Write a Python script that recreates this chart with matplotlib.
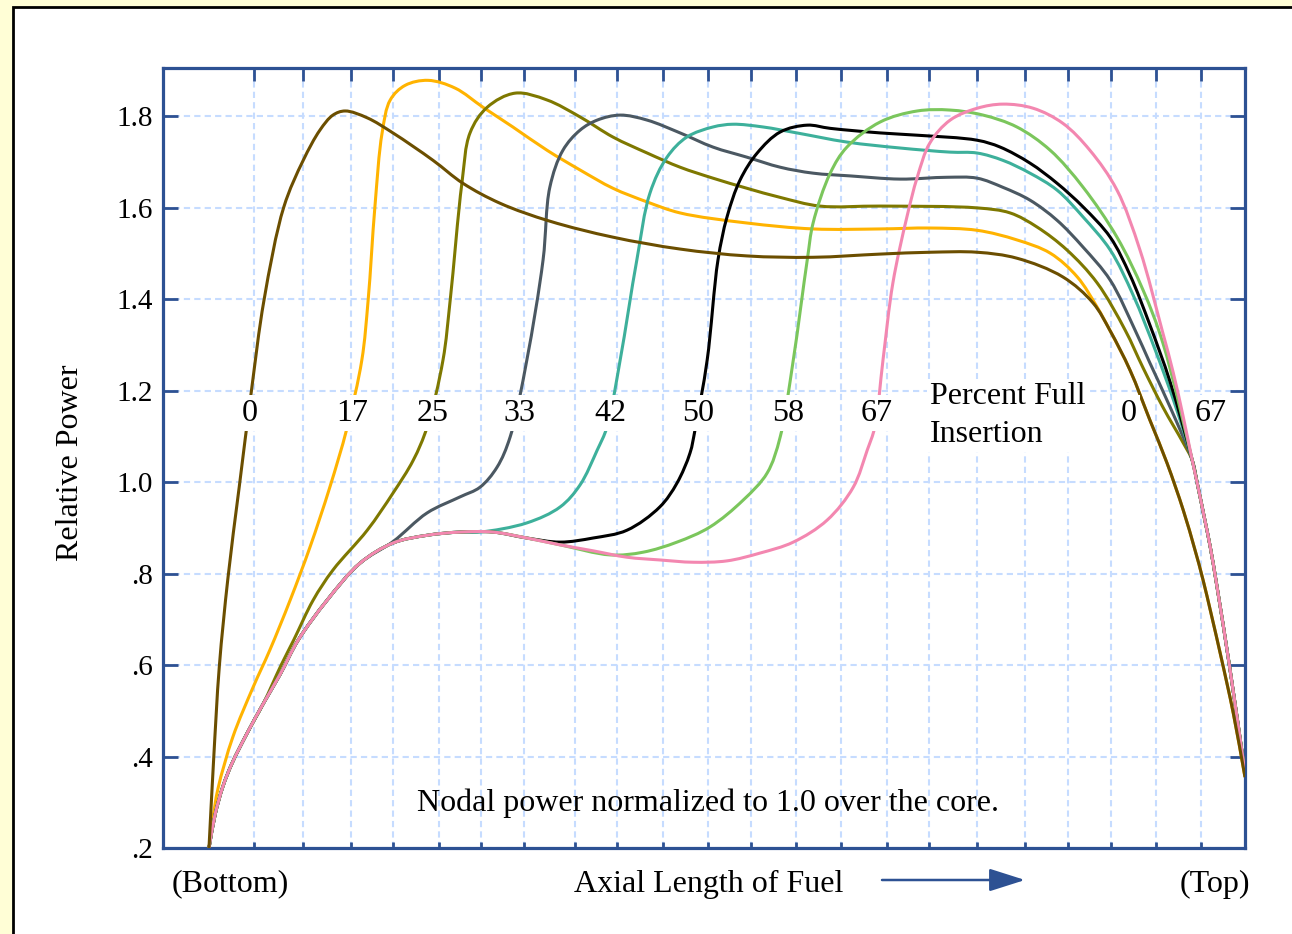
import matplotlib
matplotlib.use("Agg")
import matplotlib.pyplot as plt
import matplotlib.patches as mpatches
from matplotlib.path import Path
import numpy as np

plt.rcParams['font.family'] = ['Liberation Serif', 'DejaVu Serif']

# ---------------- data (x in axial grid units 0..24, y = relative power) ----------------
# shared lower part of the curves (rod-free bottom region)
base_x = [1.02, 1.16, 1.33, 1.53, 1.86, 2.22, 2.60, 3.00, 3.64, 4.37, 5.10, 5.86, 6.59, 7.32, 8.07, 8.81, 9.54]
base_y = [0.20, 0.275, 0.335, 0.385, 0.450, 0.515, 0.580, 0.655, 0.742, 0.823, 0.867, 0.884, 0.891, 0.891,
          0.878, 0.863, 0.850]

# shared top end after the curves converge
tail_x = [22.83, 22.94, 23.11, 23.23, 23.38, 23.67, 23.96, 24.0]
tail_y = [1.048, 0.998, 0.917, 0.858, 0.771, 0.589, 0.392, 0.364]

# 0 % insertion
c0_x = [1.02, 1.12, 1.25, 1.44, 1.69, 1.96, 2.24, 2.68, 3.11, 3.48, 3.77, 4.04, 4.53,
        5.10, 5.99, 6.65, 7.48, 8.58, 9.98, 11.47, 12.95, 14.42, 15.91, 17.01, 18.06, 18.94, 19.96,
        20.63, 21.01, 21.45, 21.89, 22.27, 22.63, 22.89, 23.07, 23.45, 23.74, 24.0]
c0_y = [0.20, 0.388, 0.598, 0.790, 0.989, 1.199, 1.398, 1.602, 1.704, 1.770, 1.803, 1.812, 1.797,
        1.764, 1.704, 1.654, 1.610, 1.571, 1.536, 1.510, 1.495, 1.492, 1.499, 1.503, 1.503, 1.490, 1.449,
        1.392, 1.331, 1.245, 1.136, 1.042, 0.939, 0.852, 0.786, 0.626, 0.495, 0.355]

# 17 %
c17_x = [1.02, 1.10, 1.22, 1.55, 2.00, 2.37, 2.82, 3.26, 3.70, 4.08, 4.41, 4.55, 4.70, 4.86, 5.04,
         5.37, 5.88, 6.48, 7.10, 7.76, 8.52, 9.25, 9.98, 10.74, 11.47, 12.95, 14.42, 15.91, 17.01,
         18.06, 18.94, 19.68, 20.28, 20.72]
c17_y = [0.20, 0.26, 0.33, 0.443, 0.552, 0.633, 0.742, 0.858, 0.989, 1.118, 1.267, 1.398, 1.602, 1.764, 1.836,
         1.868, 1.879, 1.862, 1.820, 1.777, 1.726, 1.683, 1.643, 1.613, 1.589, 1.567, 1.554, 1.554, 1.556,
         1.551, 1.530, 1.501, 1.449, 1.383]

# 25 %
c25_x = [2.62, 2.90, 3.33, 3.77, 4.53, 5.10, 5.55, 5.86, 6.21, 6.37, 6.63, 6.81, 7.19, 7.81, 8.52,
         9.25, 9.98, 10.74, 11.47, 12.20, 12.95, 13.69, 14.57, 15.91, 18.06, 18.79, 19.39, 20.05,
         20.72, 21.34, 21.74, 22.18, 22.63]
c25_y = [0.600, 0.655, 0.742, 0.808, 0.895, 0.976, 1.048, 1.121, 1.267, 1.398, 1.654, 1.764, 1.820, 1.851, 1.836,
         1.799, 1.755, 1.720, 1.689, 1.665, 1.643, 1.623, 1.604, 1.604, 1.600, 1.589, 1.558, 1.508,
         1.436, 1.333, 1.250, 1.164, 1.086]

# 33 %
c33_x = [5.10, 5.86, 6.59, 7.03, 7.41, 7.70, 8.07, 8.43, 8.58, 8.87, 9.25, 9.63, 10.14, 10.74, 11.47,
         12.20, 12.95, 13.69, 14.42, 15.24, 16.35, 17.39, 18.06, 18.63, 19.23, 19.83, 20.41, 21.01,
         21.56, 21.89, 22.34]
c33_y = [0.870, 0.933, 0.968, 0.989, 1.033, 1.099, 1.267, 1.486, 1.645, 1.726, 1.770, 1.792, 1.803, 1.792, 1.764,
         1.733, 1.711, 1.689, 1.676, 1.670, 1.663, 1.667, 1.665, 1.645, 1.617, 1.573, 1.514, 1.442,
         1.333, 1.261, 1.164]

# 42 %
c42_x = [7.03, 8.07, 8.81, 9.25, 9.63, 9.85, 10.14, 10.51, 10.80, 11.18, 11.62, 12.20, 12.64, 13.31,
         14.06, 15.17, 16.35, 17.46, 18.06, 18.63, 19.23, 19.83, 20.41, 21.01, 21.52, 22.01, 22.45]
c42_y = [0.891, 0.911, 0.946, 0.994, 1.070, 1.121, 1.267, 1.486, 1.632, 1.711, 1.755, 1.777, 1.783, 1.777,
         1.764, 1.744, 1.731, 1.722, 1.720, 1.704, 1.676, 1.639, 1.580, 1.508, 1.409, 1.289, 1.169]

# 50 %
c50_x = [8.81, 9.54, 10.29, 11.02, 11.40, 11.69, 11.80, 12.07, 12.31, 12.51, 12.80, 13.18, 13.69, 14.29,
         14.80, 15.91, 16.73, 18.06, 18.57, 19.23, 19.83, 20.41, 21.01, 21.45, 21.89, 22.34]
c50_y = [0.869, 0.878, 0.895, 0.946, 0.998, 1.064, 1.114, 1.267, 1.486, 1.580, 1.661, 1.720, 1.766, 1.781,
         1.774, 1.764, 1.759, 1.748, 1.733, 1.698, 1.654, 1.602, 1.536, 1.453, 1.344, 1.219]

# 58 %
c58_x = [9.92, 10.65, 11.40, 12.13, 12.87, 13.40, 13.69, 13.98, 14.29, 14.42, 14.80, 15.17, 15.91, 16.73,
         17.46, 18.19, 18.94, 19.68, 20.41, 21.16, 21.74, 22.18]
c58_y = [0.841, 0.847, 0.869, 0.902, 0.961, 1.020, 1.099, 1.267, 1.486, 1.567, 1.676, 1.733, 1.788, 1.812,
         1.814, 1.803, 1.777, 1.726, 1.645, 1.536, 1.420, 1.304]

# 67 %
c67_x = [10.29, 11.02, 11.76, 12.51, 13.24, 13.98, 14.73, 15.31, 15.62, 15.79, 15.97, 16.19, 16.50, 16.73,
         17.01, 17.46, 18.06, 18.63, 19.30, 19.96, 20.56, 21.16, 21.67, 22.16, 22.41, 22.63]
c67_y = [0.836, 0.830, 0.825, 0.828, 0.845, 0.869, 0.917, 0.989, 1.070, 1.121, 1.267, 1.436, 1.580, 1.667,
         1.742, 1.792, 1.818, 1.827, 1.818, 1.785, 1.726, 1.639, 1.508, 1.333, 1.239, 1.143]

insertion_labels = ["0", "17", "25", "33", "42", "50", "58", "67"]
label_x = [1.93, 4.19, 5.99, 7.90, 9.92, 11.87, 13.86, 15.84]
label_y = 1.151
right_labels = ["0", "67"]
right_label_x = [21.42, 23.23]

y_ticks = [0.2, 0.4, 0.6, 0.8, 1.0, 1.2, 1.4, 1.6, 1.8]
y_ticklabels = [".2", ".4", ".6", ".8", "1.0", "1.2", "1.4", "1.6", "1.8"]
grid_x = [2.02, 3.11, 4.17, 5.10, 6.12, 7.05, 8.01, 9.14, 10.07, 11.09, 12.09, 13.04, 14.04, 15.04,
          16.06, 16.99, 18.06, 19.12, 20.08, 21.03, 22.03, 23.03]


def upto(xs, ys, limit):
    px = [x for x in xs if x <= limit]
    return px, ys[:len(px)]


def build(prefix_limit, own_x, own_y, use_tail=True):
    bx, by = upto(base_x, base_y, prefix_limit)
    xs = list(bx) + list(own_x)
    ys = list(by) + list(own_y)
    if use_tail:
        xs += tail_x
        ys += tail_y
    return xs, ys


curves = {}
curves["0"] = (c0_x, c0_y)
t0 = [(x, y) for x, y in zip(c0_x, c0_y) if x > c17_x[-1]]
curves["17"] = (c17_x + [p[0] for p in t0], c17_y + [p[1] for p in t0])
curves["25"] = build(2.22, c25_x, c25_y)
curves["33"] = build(4.37, c33_x, c33_y)
curves["42"] = build(6.59, c42_x, c42_y)
curves["50"] = build(8.07, c50_x, c50_y)
curves["58"] = build(8.81, c58_x, c58_y)
curves["67"] = build(9.54, c67_x, c67_y)

colors = {
    "0": "#6B4E00",
    "17": "#FFB300",
    "25": "#7E7800",
    "33": "#4B5862",
    "42": "#3DB09B",
    "50": "#000000",
    "58": "#7BC65C",
    "67": "#F387B0",
}
order = ["17", "25", "33", "42", "50", "58", "67", "0"]


def smooth_path(xs, ys, sx=45.08, sy=457.3, alpha=0.5):
    """Centripetal Catmull-Rom curve through the data points, as cubic Bezier segments."""
    P = np.column_stack([np.asarray(xs, float) * sx, np.asarray(ys, float) * sy])
    keep = [0]
    for i in range(1, len(P)):
        if np.hypot(*(P[i] - P[keep[-1]])) > 1e-6:
            keep.append(i)
    P = P[keep]
    n = len(P)
    ext = np.vstack([2 * P[0] - P[1], P, 2 * P[-1] - P[-2]])
    verts = [P[0]]
    codes = [Path.MOVETO]
    for i in range(n - 1):
        p0, p1, p2, p3 = ext[i], ext[i + 1], ext[i + 2], ext[i + 3]
        d1 = np.linalg.norm(p1 - p0) ** alpha
        d2 = np.linalg.norm(p2 - p1) ** alpha
        d3 = np.linalg.norm(p3 - p2) ** alpha
        b1 = (d1 ** 2 * p2 - d2 ** 2 * p0 + (2 * d1 ** 2 + 3 * d1 * d2 + d2 ** 2) * p1) / (3 * d1 * (d1 + d2))
        b2 = (d3 ** 2 * p1 - d2 ** 2 * p3 + (2 * d3 ** 2 + 3 * d3 * d2 + d2 ** 2) * p2) / (3 * d3 * (d3 + d2))
        verts += [b1, b2, p2]
        codes += [Path.CURVE4] * 3
    V = np.array(verts)
    V[:, 0] /= sx
    V[:, 1] /= sy
    return Path(V, codes)


# ---------------- figure ----------------
W, H = 1292, 934
fig = plt.figure(figsize=(W / 100, H / 100), dpi=100)
fig.patch.set_facecolor("#FFFED6")
frame = mpatches.Rectangle((13 / W, -0.1), 1.2, 1.1 - 7 / H, transform=fig.transFigure,
                           facecolor="white", edgecolor="black", lw=2.0, zorder=-5)
fig.patches.append(frame)

left, right, top, bottom = 163, 1245, 68, 848
ax = fig.add_axes([left / W, 1 - bottom / H, (right - left) / W, (bottom - top) / H])
ax.set_xlim(0, 24)
ax.set_ylim(0.2, 1.906)
ax.set_facecolor("white")

blue = "#2D5193"
for s in ax.spines.values():
    s.set_color(blue)
    s.set_linewidth(2.3)

ax.set_yticks(y_ticks)
ax.set_yticklabels(y_ticklabels)
ax.set_xticks(grid_x)
ax.set_xticklabels([])
ax.tick_params(axis="y", direction="in", length=10.5, width=2.0, color=blue,
               left=True, right=True, labelsize=21, pad=7, labelcolor="black")
ax.tick_params(axis="x", direction="in", length=9.5, width=2.0, color=blue,
               top=True, bottom=True, labelbottom=False)
for t in ax.xaxis.get_major_ticks():
    t.tick1line.set_markersize(4.5)

ax.grid(True, color="#C6DCFF", linestyle=(0, (3, 2)), linewidth=1.5)
ax.set_axisbelow(True)

for i, key in enumerate(order):
    xs, ys = curves[key]
    patch = mpatches.PathPatch(smooth_path(xs, ys), facecolor="none", edgecolor=colors[key],
                               lw=2.2, transform=ax.transData, zorder=2 + i,
                               joinstyle="round", capstyle="butt")
    ax.add_patch(patch)

box = dict(boxstyle="square,pad=0.1", facecolor="white", edgecolor="none")
for s, x in zip(insertion_labels, label_x):
    ax.text(x, label_y, s, ha="center", va="center", fontsize=23, bbox=box, zorder=20)
for s, x in zip(right_labels, right_label_x):
    ax.text(x, label_y, s, ha="center", va="center", fontsize=23, bbox=box, zorder=20)
ax.text(17.01, 1.146, "Percent Full\nInsertion", ha="left", va="center", fontsize=23,
        linespacing=1.38, bbox=box, zorder=20)
ax.text(12.09, 0.298, "Nodal power normalized to 1.0 over the core.", ha="center", va="center",
        fontsize=23, zorder=20)

# axis titles
fig.text(70 / W, 1 - 463 / H, "Relative Power", rotation=90, ha="center", va="center", fontsize=23)
fig.text(230 / W, 1 - 884 / H, "(Bottom)", ha="center", va="center", fontsize=23)
fig.text(709 / W, 1 - 884 / H, "Axial Length of Fuel", ha="center", va="center", fontsize=23)
fig.text(1215 / W, 1 - 884 / H, "(Top)", ha="center", va="center", fontsize=23)
ax.annotate("", xy=(1025, H - 880), xytext=(882, H - 880), xycoords="figure pixels",
            textcoords="figure pixels",
            arrowprops=dict(arrowstyle="-|>,head_length=1.1,head_width=0.35", color=blue, lw=1.8,
                            shrinkA=0, shrinkB=0, mutation_scale=20))

fig.savefig("out.png", dpi=100, facecolor=fig.get_facecolor())
